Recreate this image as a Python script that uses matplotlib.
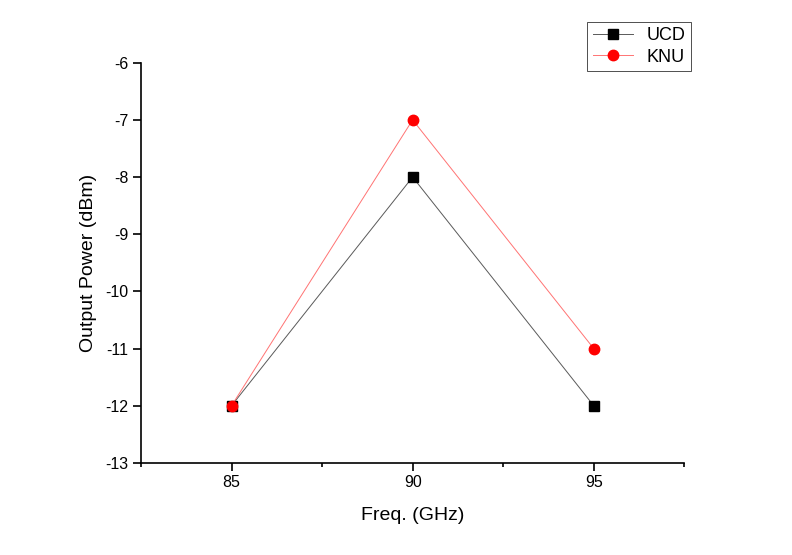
import matplotlib.pyplot as plt
from matplotlib.ticker import MultipleLocator

plt.rcParams["font.family"] = ["Liberation Sans", "DejaVu Sans"]
plt.rcParams["axes.unicode_minus"] = False

freq = [85, 90, 95]
ucd = [-12, -8, -12]
knu = [-12, -7, -11]

fig = plt.figure(figsize=(7.92, 5.55), dpi=100)
ax = fig.add_axes([0.178, 0.166, 0.686, 0.721])

ax.plot(freq, ucd, color=(0.35, 0.35, 0.35), lw=0.7, marker="s", ms=6.5,
        mfc="black", mec="black", label="UCD")
ax.plot(freq, knu, color=(1.0, 0.45, 0.45), lw=0.7, marker="o", ms=7.5,
        mfc="red", mec="red", label="KNU")

ax.set_xlim(82.5, 97.5)
ax.set_ylim(-13, -6)
ax.set_xticks([85, 90, 95])
ax.xaxis.set_minor_locator(MultipleLocator(2.5))
ax.set_yticks(range(-13, -5))
ax.spines["top"].set_visible(False)
ax.spines["right"].set_visible(False)
ax.spines["left"].set_linewidth(1.2)
ax.spines["bottom"].set_linewidth(1.2)
ax.tick_params(direction="out", length=6, width=1.2, pad=3, labelsize=11.5)
ax.tick_params(which="minor", direction="out", length=3, width=1.2)
ax.set_xlabel("Freq. (GHz)", fontsize=14, labelpad=12)
ax.set_ylabel("Output Power (dBm)", fontsize=14, labelpad=6)

leg = ax.legend(loc="upper left", bbox_to_anchor=(0.805, 1.125), fontsize=13,
                frameon=True, fancybox=False, edgecolor="black",
                handlelength=2.2, borderpad=0.3, labelspacing=0.25)
leg.get_frame().set_linewidth(0.6)

fig.savefig("out.png", dpi=100)
